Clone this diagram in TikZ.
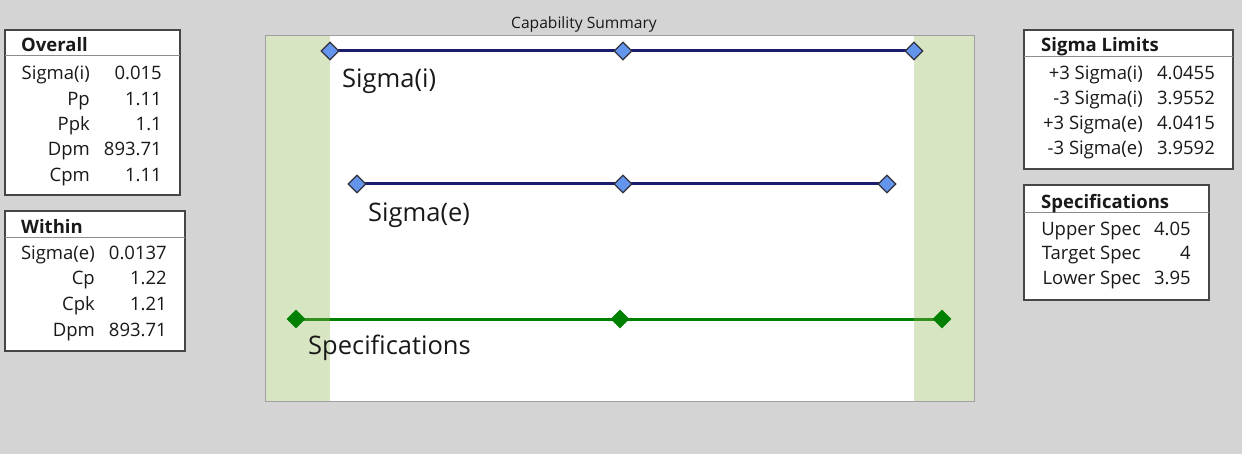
\documentclass[tikz,border=0pt]{standalone}
\usepackage{fontspec}
\setmainfont{Open Sans}
\usetikzlibrary{shapes.geometric}
\definecolor{bgc}{RGB}{212,212,212}
\definecolor{framec}{RGB}{160,160,160}
\definecolor{boxc}{RGB}{70,70,70}
\definecolor{sepc}{RGB}{140,140,140}
\definecolor{bandc}{RGB}{146,181,84}
\definecolor{navyc}{RGB}{28,28,110}
\definecolor{bluec}{RGB}{100,149,237}
\definecolor{markc}{RGB}{50,50,60}
\definecolor{greenc}{RGB}{0,128,0}
\definecolor{txtc}{RGB}{25,25,25}
\pgfdeclarelayer{bg}
\pgfdeclarelayer{lines}
\pgfdeclarelayer{bands}
\pgfsetlayers{bg,lines,bands,main}
\tikzset{
  tbl/.style={draw=boxc, line width=1.2pt, fill=white},
  sep/.style={draw=sepc, line width=1pt},
  tfont/.style={font=\fontsize{18.5}{20}\selectfont, text=txtc, inner sep=0pt},
  hdr/.style={tfont, font=\fontsize{18.5}{20}\selectfont\bfseries, anchor=base west},
  lab/.style={tfont, anchor=base east},
  plab/.style={font=\fontsize{25.5}{27}\selectfont, text=txtc, inner sep=0pt, anchor=base west},
  bmark/.style={diamond, draw=markc, fill=bluec, line width=1.2pt, minimum width=18pt, minimum height=18pt, inner sep=0pt},
  gmark/.style={diamond, fill=greenc, minimum width=19pt, minimum height=19pt, inner sep=0pt},
  navyline/.style={draw=navyc, line width=3pt},
  greenline/.style={draw=greenc, line width=3pt},
}
\begin{document}
\begin{tikzpicture}[x=1pt,y=-1pt]
\useasboundingbox (0,0) rectangle (1242,454);
\begin{pgfonlayer}{bg}
  \fill[bgc] (0,0) rectangle (1242,454);
  \fill[white] (265,36) rectangle (974,401);
\end{pgfonlayer}
% title
\node[font=\fontsize{15.6}{17}\selectfont, text=txtc, inner sep=0pt, anchor=base] (title) at (584,29) {Capability Summary};
% markers
\node[bmark] (si1) at (330,51) {};
\node[bmark] (si2) at (623,51) {};
\node[bmark] (si3) at (914,51) {};
\node[bmark] (se1) at (357,184) {};
\node[bmark] (se2) at (623,184) {};
\node[bmark] (se3) at (887,184) {};
\node[gmark] (sp1) at (296,319) {};
\node[gmark] (sp2) at (620,319) {};
\node[gmark] (sp3) at (942,319) {};
\begin{pgfonlayer}{lines}
  \draw[navyline] (si1.center) -- (si2.center) -- (si3.center);
  \draw[navyline] (se1.center) -- (se2.center) -- (se3.center);
  \draw[greenline] (sp1.center) -- (sp2.center) -- (sp3.center);
\end{pgfonlayer}
\begin{pgfonlayer}{bands}
  \fill[bandc, fill opacity=0.35] (265,36) rectangle (330,401);
  \fill[bandc, fill opacity=0.35] (914,36) rectangle (974,401);
\end{pgfonlayer}
\draw[framec, line width=1pt] (265,36) rectangle (974,401);
\node[plab] (lsi) at (342,88) {Sigma(i)};
\node[plab] (lse) at (368,221.5) {Sigma(e)};
\node[plab] (lsp) at (308,354) {Specifications};
% Overall table
\draw[tbl] (5,30) rectangle (180,195);
\draw[sep] (5,56) -- (180,56);
\node[hdr] (ovh) at (21,51.5) {Overall};
\node[lab] (ov1a) at (90,80) {Sigma(i)};  \node[lab] (ov1b) at (162,80) {0.015};
\node[lab] (ov2a) at (90,106) {Pp};       \node[lab] (ov2b) at (162,106) {1.11};
\node[lab] (ov3a) at (90,131) {Ppk};      \node[lab] (ov3b) at (162,131) {1.1};
\node[lab] (ov4a) at (90,156) {Dpm};      \node[lab] (ov4b) at (162,156) {893.71};
\node[lab] (ov5a) at (90,182) {Cpm};      \node[lab] (ov5b) at (162,182) {1.11};
% Within table
\draw[tbl] (5,211) rectangle (185,351);
\draw[sep] (5,238) -- (185,238);
\node[hdr] (wih) at (21,233.3) {Within};
\node[lab] (wi1a) at (95,260) {Sigma(e)}; \node[lab] (wi1b) at (167,260) {0.0137};
\node[lab] (wi2a) at (95,285) {Cp};       \node[lab] (wi2b) at (167,285) {1.22};
\node[lab] (wi3a) at (95,310.5) {Cpk};    \node[lab] (wi3b) at (167,310.5) {1.21};
\node[lab] (wi4a) at (95,336) {Dpm};      \node[lab] (wi4b) at (167,336) {893.71};
% Sigma Limits table
\draw[tbl] (1024,30) rectangle (1233,169);
\draw[sep] (1024,57) -- (1233,57);
\node[hdr] (slh) at (1041,51.5) {Sigma Limits};
\node[lab] (sl1a) at (1143,80) {+3 Sigma(i)}; \node[lab] (sl1b) at (1215,80) {4.0455};
\node[lab] (sl2a) at (1143,105) {-3 Sigma(i)}; \node[lab] (sl2b) at (1215,105) {3.9552};
\node[lab] (sl3a) at (1143,130) {+3 Sigma(e)}; \node[lab] (sl3b) at (1215,130) {4.0415};
\node[lab] (sl4a) at (1143,155) {-3 Sigma(e)}; \node[lab] (sl4b) at (1215,155) {3.9592};
% Specifications table
\draw[tbl] (1024,185) rectangle (1209,300);
\draw[sep] (1024,213) -- (1209,213);
\node[hdr] (sph) at (1041,208.3) {Specifications};
\node[lab] (sp1a) at (1141,236) {Upper Spec};  \node[lab] (sp1b) at (1191,236) {4.05};
\node[lab] (sp2a) at (1141,260) {Target Spec}; \node[lab] (sp2b) at (1191,260) {4};
\node[lab] (sp3a) at (1141,285) {Lower Spec};  \node[lab] (sp3b) at (1191,285) {3.95};
\end{tikzpicture}
\end{document}
